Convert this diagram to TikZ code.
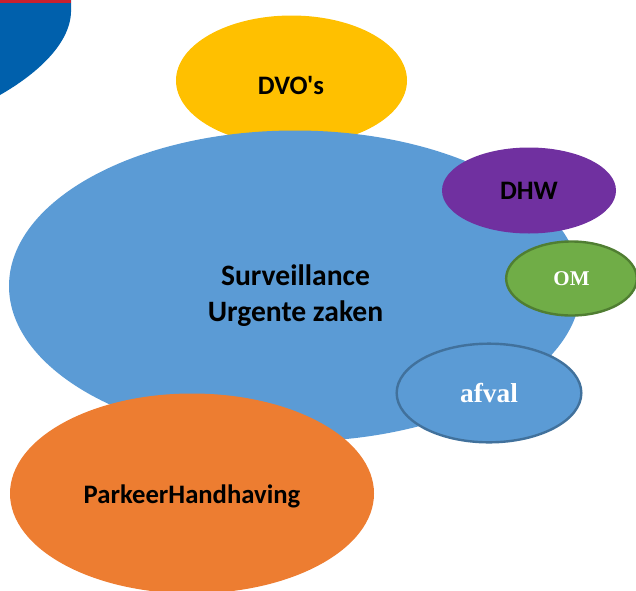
\documentclass[tikz,border=0pt]{standalone}
\usepackage{fontspec}
\usetikzlibrary{shapes.geometric}
\setmainfont{Carlito}
\newfontfamily\plaincar{Carlito}
\newfontfamily\serifb{Liberation Serif}
\definecolor{bigblue}{HTML}{5B9BD5}
\definecolor{dvoyellow}{HTML}{FFC000}
\definecolor{dhwpurple}{HTML}{7030A0}
\definecolor{omgreen}{HTML}{70AD47}
\definecolor{omedge}{HTML}{507E32}
\definecolor{afedge}{HTML}{41719C}
\definecolor{porange}{HTML}{ED7D31}
\definecolor{logoblue}{HTML}{0060AC}
\definecolor{logored}{HTML}{C8202F}
\tikzset{
  bubble/.style={ellipse,inner sep=0pt,align=center,text=black,font=\plaincar\bfseries\fontsize{22.2pt}{27pt}\selectfont},
  smallb/.style={bubble,font=\plaincar\bfseries\fontsize{20pt}{20pt}\selectfont},
  serifw/.style={ellipse,inner sep=0pt,text=white,line width=1.8pt}
}
\begin{document}
\begin{tikzpicture}[x=0.75pt,y=-0.75pt]
\useasboundingbox (0,0) rectangle (636,590);
\clip (0,0) rectangle (636,590);
\fill[logoblue] (0,0) -- (71,0) -- (71,12) .. controls (70,45) and (35,75) .. (0,95) -- cycle;
\fill[logored] (0,0) rectangle (71,3);
\node[bubble,fill=dvoyellow,minimum width=173.25pt,minimum height=97.5pt] (dvo) at (291.5,80.5) {};
\node[bubble,fill=bigblue,minimum width=429pt,minimum height=233.25pt] (surv) at (295,286) {};
\node[bubble,anchor=center] (survt) at (295.5,296) {Surveillance\\Urgente zaken};
\node[smallb,anchor=center] (dvot) at (291,85) {DVO's};
\node[smallb,fill=dhwpurple,minimum width=130.5pt,minimum height=64.5pt] (dhw) at (529,190.5) {DHW};
\node[serifw,fill=omgreen,draw=omedge,minimum width=98pt,minimum height=55.5pt,font=\serifb\bfseries\fontsize{15.75pt}{16pt}\selectfont] (om) at (571.5,278.5) {OM};
\node[serifw,fill=bigblue,draw=afedge,minimum width=138.5pt,minimum height=74pt,font=\serifb\bfseries\fontsize{20.5pt}{20pt}\selectfont] (afval) at (489,393) {afval};
\node[smallb,fill=porange,minimum width=273pt,minimum height=150pt] (park) at (192,493.5) {};
\node[smallb] (parkt) at (192,496.5) {ParkeerHandhaving};
\end{tikzpicture}
\end{document}
